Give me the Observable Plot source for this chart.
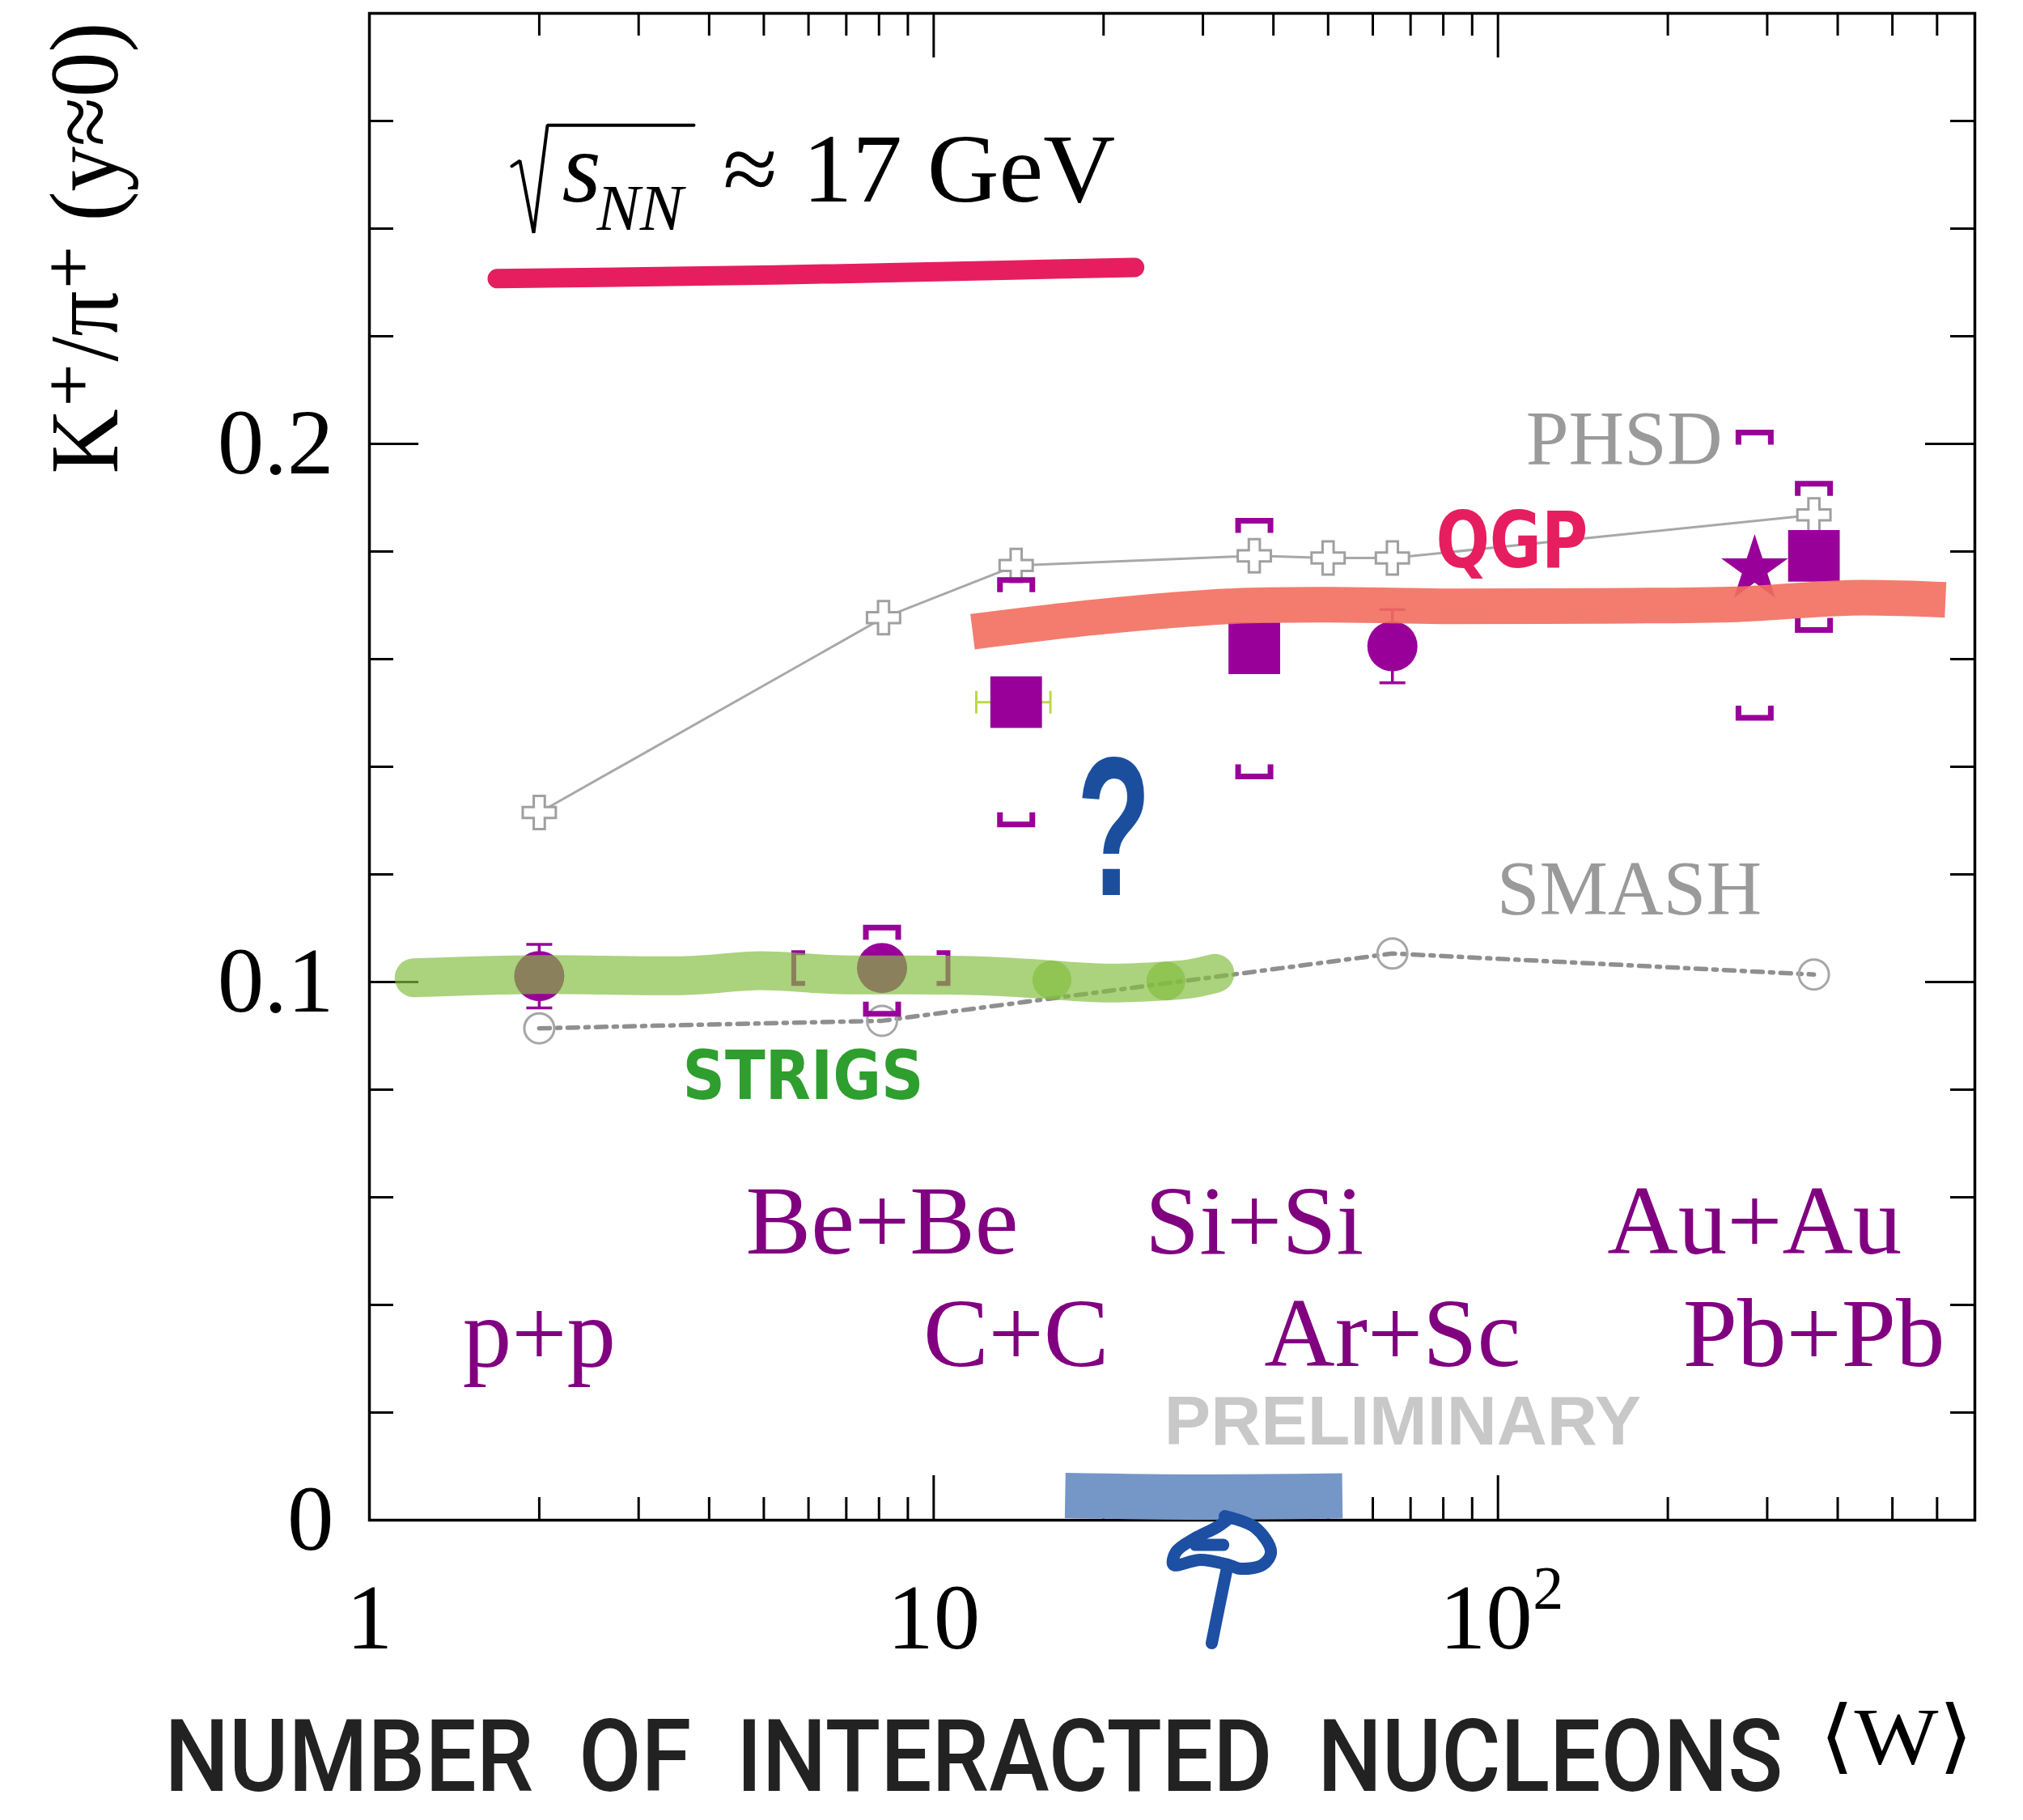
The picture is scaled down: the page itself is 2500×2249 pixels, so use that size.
<!DOCTYPE html>
<html>
<head>
<meta charset="utf-8">
<script src="https://cdn.jsdelivr.net/npm/d3@7"></script>
<script src="https://cdn.jsdelivr.net/npm/@observablehq/plot@0.6"></script>
<style>
  html, body { margin: 0; padding: 0; background: #fff; }
</style>
</head>
<body>
<div id="chart"></div>
<script>
// K+/pi+ ratio at mid-rapidity vs. number of wounded nucleons, sqrt(s_NN) ≈ 17 GeV

// ---- measured systems ----
const systems     = ["p+p", "Be+Be", "C+C", "Si+Si", "Ar+Sc", "Au+Au", "Pb+Pb"];
const wMean       = [2, 8.1, 14, 37, 65, 285, 363];
const kpRatio     = [0.1011, 0.1026, 0.152, 0.162, 0.1624, 0.1767, 0.1792];
const statErr     = [0.0059, 0, 0, 0, 0.0068, 0, 0];
const sysLow      = [null, 0.0941, 0.1293, 0.1382, null, 0.1491, 0.1654];
const sysHigh     = [null, 0.1101, 0.1747, 0.1857, null, 0.2021, 0.1926];
const markerShape = ["circle", "circle", "square", "square", "circle", "star", "square"];
const labelRow    = [2, 1, 2, 1, 2, 1, 2];

// uncertainties on <W>
const beBeWSys = [5.65, 10.6];
const cCWErr   = [11.9, 16.1];

// ---- model curves ----
const phsdW     = [2, 8.15, 14, 37, 50, 65, 363];
const phsdRatio = [0.1315, 0.1677, 0.1774, 0.1792, 0.1788, 0.1788, 0.1868];
const smashW     = [2, 8.1, 65, 363];
const smashRatio = [0.0914, 0.0928, 0.1053, 0.1014];

// ---- axis ticks ----
const xTickValues = [1, 10, 100];
const xTickLabels = ["1", "10", "10"];
const xTickExps   = ["", "", "2"];
const xMajor = [10, 100];
const xMinor = [2, 3, 4, 5, 6, 7, 8, 9, 20, 30, 40, 50, 60, 70, 80, 90, 200, 300, 400, 500, 600];
const yTickValues = [0, 0.1, 0.2];
const yTickLabels = ["0", "0.1", "0.2"];
const yMinor = [0.02, 0.04, 0.06, 0.08, 0.12, 0.14, 0.16, 0.18, 0.22, 0.24, 0.26];

// ---- hand-drawn highlights (in W / ratio units) ----
const underlineW = [1.685, 5.23, 13.8, 22.7];
const underlineY = [0.2307, 0.2314, 0.2323, 0.2328];

const qgpBandW = [11.72, 19.4, 33.3, 50, 82, 147.7, 266, 422, 621];
const qgpBandY = [0.1651, 0.1678, 0.1698, 0.1701, 0.1698, 0.1699, 0.1702, 0.1714, 0.1710];

const stringsBandPart = [0, 0, 0, 0, 0, 0, 0, 1, 1, 1, 2, 2, 2];
const stringsBandW    = [1.2, 1.99, 3.64, 4.93, 6.68, 11.67, 16.2, 16.2, 20.5, 25.8, 25.8, 28.5, 31.5];
const stringsBandY    = [0.1008, 0.1014, 0.1012, 0.1021, 0.1014, 0.1012, 0.1004, 0.1004, 0.0998, 0.1002, 0.1002, 0.1006, 0.1016];

const blueBandW = [17.1, 30, 53];
const blueBandY = [0.0046, 0.0043, 0.0045];

const scribblePart = [0, 0, 0, 0, 0, 0, 0, 0, 0, 0, 0, 0, 1, 1, 1, 2, 2];
const scribbleW = [32.8, 37.1, 39.6, 38.3, 35.0, 33.2, 29.7, 26.6, 26.9, 29.1, 31.7, 33.2, 33.2, 32.2, 31.1, 29.1, 32.6];
const scribbleY = [0.00075, -0.00135, -0.00586, -0.00827, -0.00902, -0.00827, -0.00737, -0.00827, -0.00586, -0.00331, -0.00135, 0.00015, -0.00827, -0.015, -0.02286, -0.0046, -0.0046];

const radicalW = [1.788, 1.848, 1.955, 2.068, 3.759];
const radicalY = [0.2516, 0.2526, 0.2392, 0.2592, 0.2592];

// ---- tables for the marks ----
const na61 = systems.map((name, i) => ({
  name, W: wMean[i], y: kpRatio[i], e: statErr[i],
  lo: sysLow[i], hi: sysHigh[i], shape: markerShape[i], row: labelRow[i]
}));
const phsd  = phsdW.map((W, i) => ({W, y: phsdRatio[i]}));
const smash = smashW.map((W, i) => ({W, y: smashRatio[i]}));
const underline = underlineW.map((W, i) => ({W, y: underlineY[i]}));
const qgpBand = qgpBandW.map((W, i) => ({W, y: qgpBandY[i]}));
const stringsBand = stringsBandW.map((W, i) => ({W, y: stringsBandY[i], part: stringsBandPart[i]}));
const blueBand = blueBandW.map((W, i) => ({W, y: blueBandY[i]}));
const scribble = scribbleW.map((W, i) => ({W, y: scribbleY[i], part: scribblePart[i]}));
const radical = radicalW.map((W, i) => ({W, y: radicalY[i]}));

const xTicks = xTickValues.map((v, i) => ({v, label: xTickLabels[i], exp: xTickExps[i]}));
const xPlainTicks = xTicks.filter(d => d.exp === "");
const xPowerTicks = xTicks.filter(d => d.exp !== "");

const withSys  = na61.filter(d => d.lo != null);
const withStat = na61.filter(d => d.e > 0);
const beBe = na61.find(d => d.name === "Be+Be");
const cC   = na61.find(d => d.name === "C+C");

// ---- styling ----
const purple = "#990099";
const labelPurple = "#800080";
const serif = "'Liberation Serif', 'DejaVu Serif', serif";
const W0 = 2500, H0 = 2249, ML = 456, MR = 60, MT = 16, MB = 371;
const frameW = W0 - ML - MR;
const frameH = H0 - MT - MB;
const minorLen = 28, majorLen = 55;

const X_TITLE = "NUMBER\u00A0\u00A0OF\u00A0\u00A0INTERACTED\u00A0\u00A0NUCLEONS";
const Y_TITLE = "K⁺/π⁺ (y≈0)";
const ENERGY = "≈ 17 GeV";
const W_SYMBOL = "⟨W⟩";

// pixel-sized glyphs for brackets and error-bar caps
const bracketTop    = {draw(c) { c.moveTo(-20, 15); c.lineTo(-20, 0); c.lineTo(20, 0); c.lineTo(20, 15); }};
const bracketBottom = {draw(c) { c.moveTo(-20, -15); c.lineTo(-20, 0); c.lineTo(20, 0); c.lineTo(20, -15); }};
const bracketLeft   = {draw(c) { c.moveTo(14, -19); c.lineTo(0, -19); c.lineTo(0, 19); c.lineTo(14, 19); }};
const bracketRight  = {draw(c) { c.moveTo(-14, -19); c.lineTo(0, -19); c.lineTo(0, 19); c.lineTo(-14, 19); }};
const capH = {draw(c) { c.moveTo(-16, 0); c.lineTo(16, 0); }};
const capV = {draw(c) { c.moveTo(0, -14); c.lineTo(0, 14); }};

const chart = Plot.plot({
  width: W0, height: H0,
  marginLeft: ML, marginRight: MR, marginTop: MT, marginBottom: MB,
  x: {type: "log", domain: [1, 700], axis: null},
  y: {domain: [0, 0.28], axis: null},
  style: {fontFamily: serif, background: "#fff", color: "#000"},
  marks: [
    // ticks pointing into the frame on all four sides
    Plot.tickX(xMinor, {x: d => d, insetTop: frameH - minorLen, stroke: "#000", strokeWidth: 3}),
    Plot.tickX(xMajor, {x: d => d, insetTop: frameH - majorLen, stroke: "#000", strokeWidth: 3}),
    Plot.tickX(xMinor, {x: d => d, insetBottom: frameH - minorLen, stroke: "#000", strokeWidth: 3}),
    Plot.tickX(xMajor, {x: d => d, insetBottom: frameH - majorLen, stroke: "#000", strokeWidth: 3}),
    Plot.tickY(yMinor, {y: d => d, insetRight: frameW - 30, stroke: "#000", strokeWidth: 3}),
    Plot.tickY(yTickValues, {y: d => d, insetRight: frameW - 61, stroke: "#000", strokeWidth: 3}),
    Plot.tickY(yMinor, {y: d => d, insetLeft: frameW - 30, stroke: "#000", strokeWidth: 3}),
    Plot.tickY(yTickValues, {y: d => d, insetLeft: frameW - 61, stroke: "#000", strokeWidth: 3}),
    Plot.frame({stroke: "#000", strokeWidth: 3.5}),

    // tick labels (10² drawn as mantissa + raised exponent)
    Plot.text(xPlainTicks, {x: "v", text: "label", frameAnchor: "bottom", dy: 158,
      lineAnchor: "bottom", fontSize: 115, fill: "#000"}),
    Plot.text(xPowerTicks, {x: "v", text: "label", frameAnchor: "bottom", dy: 158, dx: -15,
      lineAnchor: "bottom", fontSize: 115, fill: "#000"}),
    Plot.text(xPowerTicks, {x: "v", text: "exp", frameAnchor: "bottom", dy: 109, dx: 62,
      lineAnchor: "bottom", fontSize: 76, fill: "#000"}),
    Plot.text(yTickValues, {y: d => d, text: (d, i) => yTickLabels[i], frameAnchor: "left", dx: -44,
      textAnchor: "end", lineAnchor: "middle", fontSize: 115, fill: "#000"}),

    // PHSD
    Plot.line(phsd, {x: "W", y: "y", stroke: "#a8a8a8", strokeWidth: 3}),
    Plot.dot(phsd, {x: "W", y: "y", symbol: "cross", r: 17.2, fill: "#fff", stroke: "#a0a0a0", strokeWidth: 3}),

    // SMASH
    Plot.line(smash, {x: "W", y: "y", stroke: "#8f8f8f", strokeWidth: 5.5, strokeDasharray: "13,9,4,9"}),
    Plot.dot(smash, {x: "W", y: "y", r: 18.5, fill: "none", stroke: "#a6a6a6", strokeWidth: 3}),

    // NA61 systematic brackets
    Plot.dot(withSys, {x: "W", y: "hi", symbol: bracketTop, fill: "none", stroke: purple, strokeWidth: 7, strokeLinejoin: "miter"}),
    Plot.dot(withSys, {x: "W", y: "lo", symbol: bracketBottom, fill: "none", stroke: purple, strokeWidth: 7, strokeLinejoin: "miter"}),
    Plot.dot([{W: beBeWSys[0], y: beBe.y}], {x: "W", y: "y", symbol: bracketLeft, fill: "none", stroke: purple, strokeWidth: 6}),
    Plot.dot([{W: beBeWSys[1], y: beBe.y}], {x: "W", y: "y", symbol: bracketRight, fill: "none", stroke: purple, strokeWidth: 6}),

    // statistical error bars
    Plot.ruleX(withStat, {x: "W", y1: d => d.y - d.e, y2: d => d.y + d.e, stroke: purple, strokeWidth: 3.5}),
    Plot.dot(withStat, {x: "W", y: d => d.y + d.e, symbol: capH, stroke: purple, strokeWidth: 3.5}),
    Plot.dot(withStat, {x: "W", y: d => d.y - d.e, symbol: capH, stroke: purple, strokeWidth: 3.5}),

    // C+C uncertainty in <W>
    Plot.ruleY([cC], {y: "y", x1: () => cCWErr[0], x2: () => cCWErr[1], stroke: "#bcd94a", strokeWidth: 3}),
    Plot.dot(cCWErr.map(W => ({W, y: cC.y})), {x: "W", y: "y", symbol: capV, stroke: "#bcd94a", strokeWidth: 3}),

    // NA61 points
    Plot.dot(na61.filter(d => d.shape === "circle"), {x: "W", y: "y", r: 31, fill: purple}),
    Plot.dot(na61.filter(d => d.shape === "square"), {x: "W", y: "y", symbol: "square", r: 36, fill: purple}),
    Plot.dot(na61.filter(d => d.shape === "star"), {x: "W", y: "y", symbol: "star", r: 26, fill: purple}),

    // highlighter strokes
    Plot.line(stringsBand, {x: "W", y: "y", z: "part", stroke: "#83bc3f", strokeOpacity: 0.68, strokeWidth: 48,
      strokeLinecap: "round", curve: "catmull-rom"}),
    Plot.line(qgpBand, {x: "W", y: "y", stroke: "#f26e5e", strokeOpacity: 0.9, strokeWidth: 44,
      strokeLinecap: "butt", curve: "catmull-rom"}),
    Plot.line(underline, {x: "W", y: "y", stroke: "#e61e5f", strokeWidth: 24, strokeLinecap: "round", curve: "catmull-rom"}),
    Plot.line(blueBand, {x: "W", y: "y", stroke: "#7597c7", strokeWidth: 56, strokeLinecap: "butt", curve: "catmull-rom"}),
    Plot.line(scribble, {x: "W", y: "y", z: "part", stroke: "#1d4fa3", strokeWidth: 15, strokeLinecap: "round",
      strokeLinejoin: "round", curve: "catmull-rom"}),

    // hand-written notes
    Plot.text([{t: "QGP", W: 77.6, y: 0.1771}], {x: "W", y: "y", text: "t", textAnchor: "start", lineAnchor: "bottom",
      fontFamily: "'DejaVu Sans', sans-serif", fontWeight: "bold", fontSize: 96, fill: "#e61e5f"}),
    Plot.text([{t: "STRIGS", W: 3.59, y: 0.0782}], {x: "W", y: "y", text: "t", textAnchor: "start", lineAnchor: "bottom",
      fontFamily: "'DejaVu Sans', sans-serif", fontWeight: "bold", fontSize: 84, fill: "#2e9e2e"}),
    Plot.text([{t: "?", W: 20.86, y: 0.1161}], {x: "W", y: "y", text: "t", textAnchor: "middle", lineAnchor: "bottom",
      fontFamily: "'Liberation Sans', sans-serif", fontWeight: "bold", fontSize: 245, fill: "#1b4f9e"}),

    // collision system labels
    Plot.text(na61, {x: "W", y: d => d.row === 1 ? 0.0495 : 0.0286, text: "name", lineAnchor: "bottom",
      fontSize: 121, fill: labelPurple}),

    // model labels
    Plot.text([{t: "PHSD", W: 249.9, y: 0.1961}], {x: "W", y: "y", text: "t", textAnchor: "end", lineAnchor: "bottom",
      fontSize: 95, fill: "#9a9a9a"}),
    Plot.text([{t: "SMASH", W: 170.8, y: 0.1126}], {x: "W", y: "y", text: "t", lineAnchor: "bottom",
      fontSize: 95, fill: "#9a9a9a"}),
    Plot.text([{t: "PRELIMINARY", W: 67.8, y: 0.014}], {x: "W", y: "y", text: "t", lineAnchor: "bottom",
      fontFamily: "'Liberation Sans', Arial, sans-serif", fontWeight: "bold", fontSize: 86, fill: "#c8c8c8"}),

    // energy label: √s_NN ≈ 17 GeV
    Plot.line(radical, {x: "W", y: "y", stroke: "#000", strokeWidth: 4, strokeLinejoin: "miter"}),
    Plot.text([{t: "s", W: 2.195, y: 0.2451}], {x: "W", y: "y", text: "t", textAnchor: "start", lineAnchor: "bottom",
      fontStyle: "italic", fontSize: 124, fill: "#000"}),
    Plot.text([{t: "NN", W: 2.529, y: 0.2398}], {x: "W", y: "y", text: "t", textAnchor: "start", lineAnchor: "bottom",
      fontStyle: "italic", fontSize: 80, fill: "#000"}),
    Plot.text([{t: ENERGY, W: 4.23, y: 0.2451}], {x: "W", y: "y", text: "t", textAnchor: "start", lineAnchor: "bottom",
      fontSize: 120, fill: "#000"}),

    // axis titles
    Plot.text([Y_TITLE], {frameAnchor: "top-left", dx: -312, dy: 290, rotate: -90, textAnchor: "middle",
      lineAnchor: "bottom", fontSize: 120, fill: "#000"}),
    Plot.text([X_TITLE], {frameAnchor: "bottom-left", dx: -253, dy: 334,
      textAnchor: "start", lineAnchor: "bottom", fontFamily: "Roboto, 'Liberation Sans', sans-serif", fontWeight: 500,
      fontSize: 124, fill: "#222"}),
    Plot.text([W_SYMBOL], {frameAnchor: "bottom-right", dx: -2, dy: 300, textAnchor: "end", lineAnchor: "bottom",
      fontSize: 100, fill: "#000"})
  ]
});

document.getElementById("chart").append(chart);

// squeeze a few labels along their writing direction to their measured lengths
const squeeze = (str, len) =>
  d3.select(chart).selectAll("text")
    .filter(function() { return this.textContent === str; })
    .each(function() {
      const w = this.getBBox().width;
      if (!(w > 0)) return;
      const t = this.getAttribute("transform") || "";
      this.setAttribute("transform", `${t} scale(${len / w},1)`.trim());
    });
squeeze(X_TITLE, 2000);
squeeze(W_SYMBOL, 190);
squeeze(Y_TITLE, 558);
squeeze(ENERGY, 485);
squeeze("QGP", 188);
squeeze("STRIGS", 298);
squeeze("?", 92);
</script>
</body>
</html>
